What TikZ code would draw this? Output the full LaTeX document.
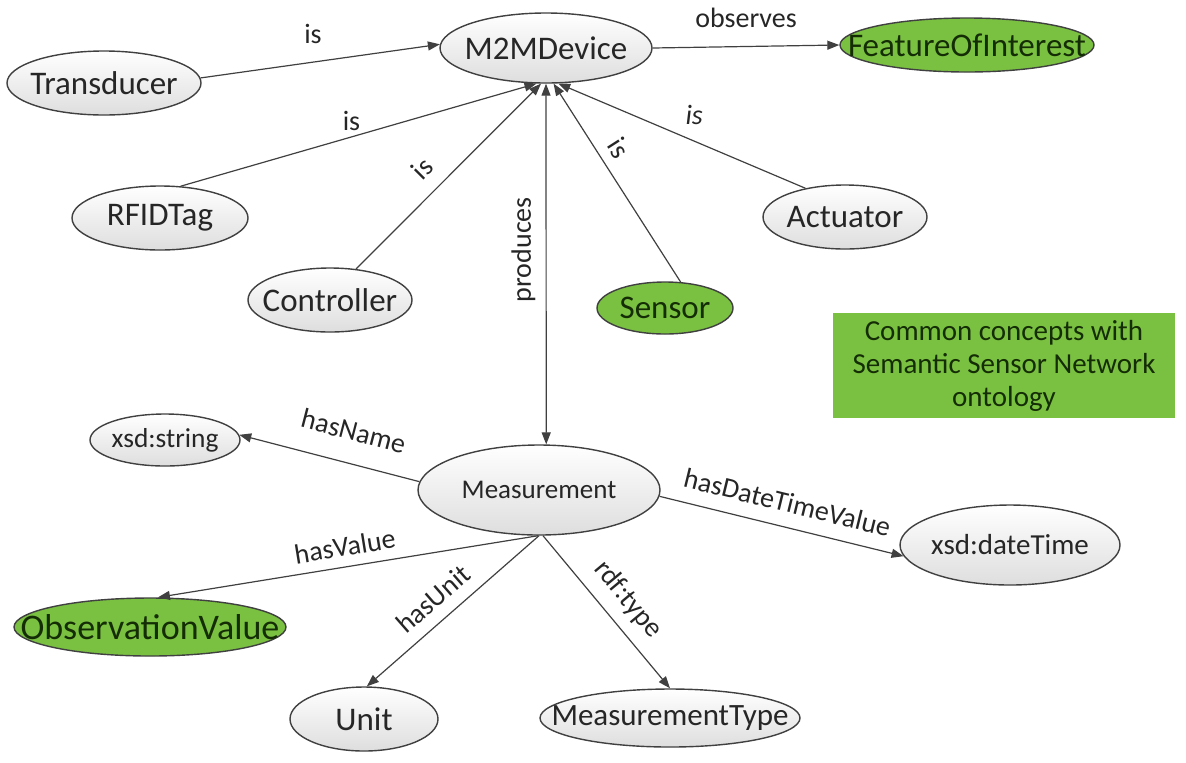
\documentclass[tikz,border=0pt]{standalone}
\usepackage{fontspec}
\setmainfont{Carlito}
\usetikzlibrary{shapes.geometric,arrows.meta}
\definecolor{sgreen}{RGB}{122,193,66}
\definecolor{ink}{RGB}{38,38,38}
\definecolor{gink}{RGB}{20,45,5}
\definecolor{edgec}{RGB}{64,64,64}
\newcommand\ntxt[1]{\makebox[0pt]{#1}}
\begin{document}
\begin{tikzpicture}[x=0.5pt,y=-0.5pt,
  ent/.style={ellipse, draw=edgec, line width=0.7pt, top color=white, bottom color=black!13,
    inner sep=0pt, text=ink, font=\fontsize{16.5}{18}\selectfont},
  grn/.style={ellipse, draw=edgec, line width=0.7pt, fill=sgreen,
    inner sep=0pt, text=gink, font=\fontsize{16.5}{18}\selectfont},
  lbl/.style={text=ink, inner sep=1pt, font=\fontsize{14}{16}\selectfont},
  rel/.style={draw=edgec, line width=0.6pt, -{Triangle[length=6pt,width=4.5pt]}},
  ssnbox/.style={fill=sgreen, text=gink, align=center, inner sep=0pt,
    font=\fontsize{14.5}{16.5}\selectfont}]
\useasboundingbox (0,0) rectangle (1186,762);

% nodes
\node[ent, minimum width=97pt, minimum height=32pt] (trans) at (104,83) {\ntxt{Transducer}};
\node[ent, minimum width=106pt, minimum height=35pt] (m2m) at (546,48) {\ntxt{M2MDevice}};
\node[grn, minimum width=127pt, minimum height=27pt] (foi) at (967,45) {\ntxt{FeatureOfInterest}};
\node[ent, minimum width=88pt, minimum height=32pt] (rfid) at (160,218) {\ntxt{RFIDTag}};
\node[ent, minimum width=82pt, minimum height=32pt] (ctrl) at (330,300) {\ntxt{Controller}};
\node[grn, minimum width=68pt, minimum height=26pt] (sensor) at (665,308) {\ntxt{Sensor}};
\node[ent, minimum width=82pt, minimum height=32pt] (act) at (845,217) {\ntxt{Actuator}};
\node[ssnbox, minimum width=171pt, minimum height=52.5pt] (ssn) at (1004,365.5)
  {Common concepts with\\Semantic Sensor Network\\ontology};
\node[ent, minimum width=75pt, minimum height=26pt, font=\fontsize{13.7}{15}\selectfont] (xstr) at (165,440) {\ntxt{xsd:string}};
\node[ent, minimum width=121pt, minimum height=45pt, font=\fontsize{13.5}{15}\selectfont] (meas) at (539,490) {\ntxt{Measurement}};
\node[ent, minimum width=110pt, minimum height=40pt, font=\fontsize{14.5}{16}\selectfont] (xdt) at (1010,545) {\ntxt{xsd:dateTime}};
\node[grn, minimum width=136pt, minimum height=29pt, font=\fontsize{18}{20}\selectfont] (obs) at (150,627) {\ntxt{ObservationValue}};
\node[ent, minimum width=74pt, minimum height=32pt] (unit) at (364,719) {\ntxt{Unit}};
\node[ent, minimum width=130pt, minimum height=29pt, font=\fontsize{15.5}{17}\selectfont] (mtype) at (670,718) {\ntxt{MeasurementType}};

% connectors
\draw[rel] (trans.3) -- node[lbl, pos=0.47, above=8pt] {is} (m2m.178);
\draw[rel] (rfid.57) -- node[lbl, pos=0.48, above=2pt] {is} (m2m.-105);
\draw[rel] (ctrl.50) -- node[lbl, pos=0.45, sloped, above=6pt] {is} (m2m.-98);
\draw[rel] (sensor.59) -- node[lbl, pos=0.62, sloped, above=4pt] {is} (m2m.-78);
\draw[rel] (act.144) -- node[lbl, pos=0.45, above=7pt, font=\fontsize{14}{16}\selectfont\itshape] {is} (m2m.-71);
\draw[rel] (m2m.0) -- node[lbl, pos=0.5, above=8pt] {observes} (foi.180);
\draw[rel, {Triangle[length=6pt,width=4.5pt]}-{Triangle[length=6pt,width=4.5pt]}] (m2m.-90) -- node[lbl, pos=0.46, rotate=90, anchor=south, inner sep=5pt] {produces} (meas.81);
\draw[rel] (meas.176) -- node[lbl, pos=0.41, sloped, above=10pt] {hasName} (xstr.4);
\draw[rel] (meas.-91) -- node[lbl, pos=0.5, sloped, above=4pt] {hasValue} (obs.75);
\draw[rel] (meas.-90) -- node[lbl, pos=0.53, sloped, above=5pt] {hasUnit} (unit.85);
\draw[rel] (meas.-85) -- node[lbl, pos=0.52, sloped, above=5pt] {rdf:type} (mtype.90);
\draw[rel] (meas.-3) -- node[lbl, pos=0.5, sloped, above=6pt] {hasDateTimeValue} (xdt.186);
\end{tikzpicture}
\end{document}
